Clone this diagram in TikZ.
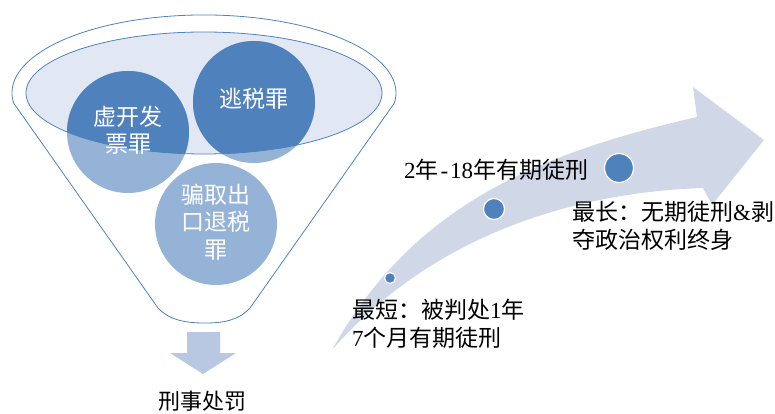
\documentclass[tikz,border=0pt]{standalone}
\usepackage{fontspec}
\setmainfont{Liberation Serif}
\newfontfamily\cjk{Noto Sans CJK SC}
\definecolor{dkblue}{RGB}{79,129,189}
\definecolor{ltblue}{RGB}{149,179,215}
\definecolor{ellfill}{RGB}{226,232,243}
\definecolor{arrfill}{RGB}{208,216,232}
\definecolor{downarr}{RGB}{185,200,226}
\tikzset{
  ball/.style={circle, fill=ltblue, minimum size=122pt, inner sep=0pt},
  balltext/.style={text=white, align=center, font=\cjk\fontsize{23}{27.5}\selectfont, inner sep=0pt},
  dot/.style={circle, fill=dkblue, draw=white, line width=1.2pt, inner sep=0pt},
  txt/.style={text=black, align=left, font=\fontsize{23}{28}\selectfont, inner sep=0pt},
  outline/.style={draw=dkblue, line width=0.8pt}
}
\newcommand{\hy}{\makebox[0.5em]{-}}
\begin{document}
\begin{tikzpicture}[x=1pt,y=-1pt]
\useasboundingbox (0,0) rectangle (775,414);
% curved arrow
\fill[arrfill] (332,350) .. controls (410,210) and (530,155) .. (697,117)
  -- (693,87) -- (764,140) -- (712,205) -- (703,188)
  .. controls (580,192) and (435,232) .. (332,350) -- cycle;
\node[dot, minimum size=11pt] (d1) at (390,278) {};
\node[dot, minimum size=21pt] (d2) at (494,209) {};
\node[dot, minimum size=29pt] (d3) at (619,168) {};
% funnel outline
\draw[outline] (13.6,103) arc[start angle=172.6, end angle=367.4, x radius=192, y radius=78]
  -- (250,308) .. controls (238,321) and (222,323) .. (205,323)
  .. controls (188,323) and (170,321) .. (158,308) -- cycle;
% inner ellipse
\fill[ellfill] (204,93) ellipse [x radius=178, y radius=61];
% balls
\node[ball] (c1) at (128,132) {};
\node[ball] (c2) at (254,102) {};
\node[ball] (c3) at (216,224) {};
\begin{scope}
  \clip (204,93) ellipse [x radius=178, y radius=61];
  \fill[dkblue] (c1.center) circle [radius=61];
  \fill[dkblue] (c2.center) circle [radius=61];
\end{scope}
\draw[outline] (204,93) ellipse [x radius=178, y radius=61];
\node[balltext] (t1) at (128,130) {虚开发\\票罪};
\node[balltext] (t2) at (254,99) {逃税罪};
\node[balltext] (t3) at (216,222) {骗取出\\口退税\\罪};
% down arrow
\fill[downarr] (187,332) -- (220,332) -- (220,353) -- (236,353) -- (203,374)
  -- (170,353) -- (187,353) -- cycle;
\node[txt, font=\cjk\fontsize{22}{28}\selectfont] (out) at (202,401) {刑事处罚};
% labels
\node[txt, anchor=west] (l2) at (404,170) {2{\cjk 年}\hy18{\cjk 年有期徒刑}};
\node[txt, anchor=west] (l3) at (572,226) {{\cjk 最长：无期徒刑}\&{\cjk 剥}\\{\cjk 夺政治权利终身}};
\node[txt, anchor=west] (l1) at (352,324) {{\cjk 最短：被判处}1{\cjk 年}\\7{\cjk 个月有期徒刑}};
\end{tikzpicture}
\end{document}
